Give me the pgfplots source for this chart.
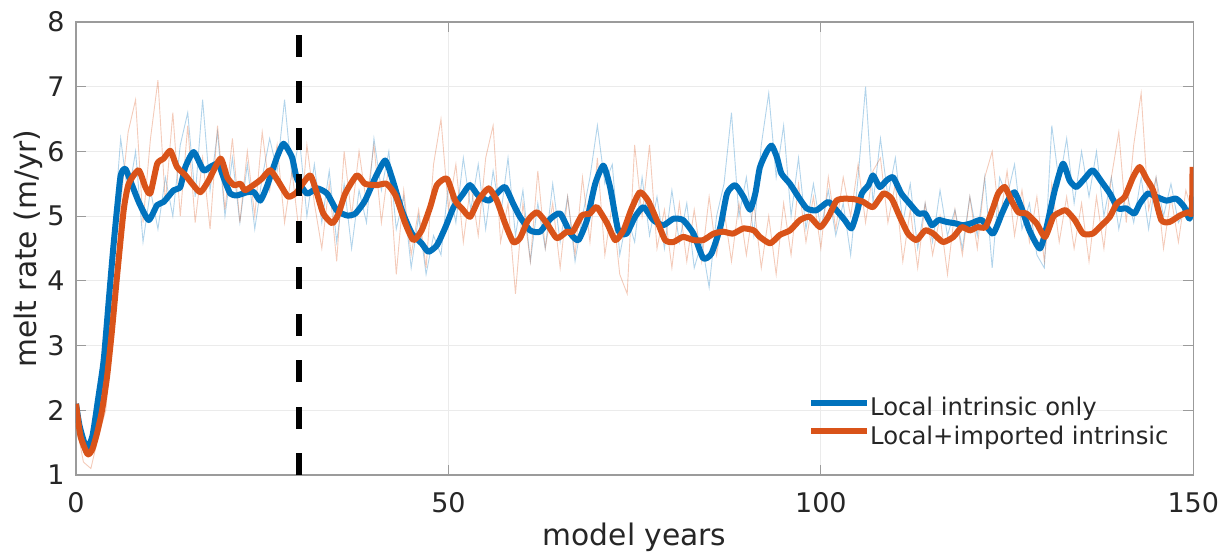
\documentclass[border=0pt]{standalone}
\usepackage{pgfplots}
\pgfplotsset{compat=1.18}
\usepackage{fontspec}
\setmainfont{DejaVu Sans}
\definecolor{mblue}{RGB}{0,114,189}
\definecolor{morange}{RGB}{217,83,25}
\definecolor{txt}{RGB}{38,38,38}
\definecolor{axgray}{RGB}{155,155,155}
\definecolor{gridc}{RGB}{235,235,235}
\begin{document}
\begin{tikzpicture}
\path[use as bounding box] (-38pt,-39pt) rectangle (575.5pt,237.5pt);
\begin{axis}[
  at={(0,0)}, anchor=south west, scale only axis,
  width=558.65pt, height=226.5pt,
  xmin=0, xmax=150, ymin=1, ymax=8,
  xtick={0,50,100,150}, ytick={1,2,3,4,5,6,7,8},
  grid=major, grid style={color=gridc, line width=0.5pt},
  axis line style={color=axgray, line width=0.6pt},
  tick style={color=axgray, line width=0.6pt},
  tick align=inside, tick pos=both, major tick length=5pt,
  /pgf/number format/assume math mode=true,
  ticklabel style={font=\fontsize{13.5}{16}\selectfont, text=txt},
  yticklabel style={inner sep=0pt, anchor=east, xshift=-5.5pt},
  xticklabel style={inner sep=0pt, anchor=north, yshift=-8.5pt},
  xlabel={model years}, ylabel={melt rate (m/yr)},
  xlabel style={at={(axis description cs:0.5,-0.1567)}, anchor=base, font=\fontsize{14.85}{18}\selectfont, text=txt},
  ylabel style={at={(axis description cs:-0.0358,0.5)}, anchor=base, rotate=0, font=\fontsize{14.85}{18}\selectfont, text=txt},
  legend style={draw=none, fill=none, at={(axis description cs:0.655,0.172)}, anchor=north west,
    font=\fontsize{12.15}{14}\selectfont, text=txt, inner sep=0pt, row sep=3.3pt,
    nodes={inner sep=0pt}},
  legend cell align=left,
  /tikz/every even column/.append style={column sep=3pt},
  legend image code/.code={\draw[#1, line width=3pt] (0pt,2.6pt) -- (28pt,2.6pt);},
]
% thin raw series
\addplot[mblue, opacity=0.3, line width=0.45pt, forget plot] coordinates {
(0,2.05)(0.5,1.6)(1,1.35)(1.5,1.3)(2,1.4)(3,2.3)(4,3.0)(5,4.7)(6,6.2)(7,5.3)(8,6.0)(9,4.6)(10,5.4)
(11,4.8)(12,5.6)(13,5.0)(14,6.1)(15,6.6)(16,5.3)(17,6.8)(18,5.4)(19,6.3)(20,5.0)
(21,5.9)(22,4.9)(23,5.8)(24,4.8)(25,5.6)(26,6.2)(27,5.7)(28,6.8)(29,5.6)(30,6.2)
(31,5.0)(32,5.8)(33,4.9)(34,5.7)(35,4.6)(36,5.5)(37,4.5)(38,5.4)(39,4.9)(40,6.2)
(41,5.4)(42,6.0)(43,4.8)(44,5.3)(45,4.2)(46,5.0)(47,4.1)(48,4.7)(49,4.4)(50,5.5)
(51,4.9)(52,5.9)(53,5.1)(54,5.8)(55,4.8)(56,5.7)(57,5.0)(58,5.9)(59,4.7)(60,5.4)
(61,4.3)(62,5.2)(63,4.5)(64,5.5)(65,4.6)(66,5.3)(67,4.3)(68,5.0)(69,5.6)(70,6.4)
(71,5.5)(72,5.8)(73,4.4)(74,5.0)(75,4.6)(76,5.6)(77,4.7)(78,5.3)(79,4.5)(80,5.4)
(81,4.6)(82,5.2)(83,4.2)(84,4.6)(85,3.9)(86,5.0)(87,5.5)(88,6.6)(89,5.0)(90,5.6)
(91,4.7)(92,6.1)(93,6.9)(94,5.6)(95,6.4)(96,5.0)(97,5.9)(98,4.8)(99,5.5)(100,4.8)
(101,5.4)(102,4.7)(103,5.2)(104,4.4)(105,5.6)(106,7.0)(107,5.2)(108,6.2)(109,5.3)(110,5.9)
(111,4.9)(112,5.5)(113,4.5)(114,5.2)(115,4.6)(116,5.4)(117,4.7)(118,5.1)(119,4.5)(120,5.3)
(121,4.7)(122,5.6)(123,4.2)(124,5.6)(125,5.3)(126,5.8)(127,4.8)(128,5.2)(129,4.4)(130,4.2)
(131,6.4)(132,5.5)(133,6.2)(134,5.2)(135,6.0)(136,5.3)(137,6.0)(138,5.0)(139,5.6)(140,4.8)
(141,5.4)(142,4.9)(143,5.6)(144,4.8)(145,5.6)(146,5.0)(147,5.5)(148,4.9)(149,5.1)(150,5.0)
};
\addplot[morange, opacity=0.3, line width=0.45pt, forget plot] coordinates {
(0,2.15)(0.5,1.5)(1,1.2)(1.5,1.15)(2,1.1)(3,1.6)(4,2.0)(5,3.4)(6,5.2)(7,6.3)(8,6.8)(9,4.9)(10,6.2)
(11,7.1)(12,5.2)(13,6.6)(14,5.0)(15,6.4)(16,4.9)(17,5.9)(18,4.8)(19,6.4)(20,5.1)
(21,6.2)(22,4.9)(23,6.0)(24,5.0)(25,6.3)(26,5.4)(27,6.1)(28,4.9)(29,5.7)(30,4.7)
(31,6.1)(32,5.2)(33,4.5)(34,5.5)(35,4.3)(36,6.0)(37,5.0)(38,6.0)(39,5.2)(40,6.1)
(41,4.9)(42,5.8)(43,4.1)(44,5.4)(45,4.4)(46,5.1)(47,4.2)(48,5.8)(49,6.5)(50,5.1)
(51,5.8)(52,4.6)(53,5.5)(54,4.7)(55,5.9)(56,6.4)(57,4.6)(58,5.2)(59,3.8)(60,5.2)
(61,4.3)(62,5.7)(63,4.5)(64,5.2)(65,4.2)(66,5.3)(67,4.4)(68,5.6)(69,4.6)(70,5.9)
(71,4.4)(72,5.2)(73,4.1)(74,3.8)(75,6.1)(76,5.0)(77,6.1)(78,4.5)(79,5.1)(80,4.2)
(81,5.2)(82,4.3)(83,5.1)(84,4.3)(85,5.3)(86,4.4)(87,5.1)(88,4.3)(89,5.2)(90,4.4)
(91,5.2)(92,4.2)(93,5.0)(94,4.1)(95,5.2)(96,4.4)(97,5.5)(98,4.6)(99,5.3)(100,4.5)
(101,5.6)(102,4.8)(103,5.6)(104,5.0)(105,5.8)(106,4.9)(107,5.7)(108,5.9)(109,4.9)(110,5.5)
(111,4.3)(112,5.1)(113,4.2)(114,5.2)(115,4.4)(116,5.0)(117,4.1)(118,5.1)(119,4.4)(120,5.3)
(121,4.5)(122,5.6)(123,6.0)(124,4.9)(125,5.7)(126,4.7)(127,5.4)(128,4.6)(129,5.3)(130,4.3)
(131,5.5)(132,4.6)(133,5.3)(134,4.5)(135,5.2)(136,4.3)(137,5.3)(138,4.5)(139,5.6)(140,6.3)
(141,4.9)(142,6.1)(143,6.9)(144,5.1)(145,5.6)(146,4.5)(147,5.3)(148,4.6)(149,5.4)(150,5.0)
};
% smoothed series
\addplot[mblue, line width=3pt, line join=round, smooth, tension=0.35] coordinates {
(0,2.1)(0.5,1.75)(1.4,1.42)(2.2,1.6)(3,2.2)(3.72,2.78)(4.4,3.7)(5.06,4.58)(5.96,5.6)(6.63,5.73)
(7.52,5.48)(8.5,5.2)(9.76,4.94)(10.88,5.17)(11.77,5.22)(13.1,5.40)(14.0,5.45)(14.68,5.76)(15.8,5.99)
(17.1,5.71)(18.0,5.76)(19.1,5.81)(19.8,5.6)(20.7,5.35)(21.6,5.32)(22.96,5.37)(23.9,5.37)(24.74,5.24)
(25.6,5.45)(26.98,5.91)(27.87,6.12)(29.0,5.91)(29.66,5.58)(31.0,5.35)(32.35,5.43)(33.7,5.35)(35.0,5.09)
(36.4,5.01)(37.5,5.04)(38.8,5.24)(40.2,5.60)(41.5,5.86)(42.4,5.60)(43.75,5.09)(45.1,4.73)(46.4,4.58)
(47.3,4.45)(48.45,4.55)(49.6,4.83)(50.7,5.14)(52.0,5.35)(52.9,5.48)(54.0,5.32)(55.4,5.24)(56.5,5.35)
(57.6,5.45)(58.7,5.19)(59.6,4.99)(60.97,4.78)(62.3,4.76)(63.7,4.96)(65.0,5.04)(66.4,4.73)(67.45,4.63)
(68.6,4.94)(69.7,5.50)(70.8,5.78)(71.7,5.45)(72.8,4.78)(73.9,4.73)(75.06,4.99)(76.2,5.14)(77.5,4.94)
(78.85,4.86)(80.2,4.96)(81.5,4.94)(82.9,4.73)(84.2,4.35)(85.3,4.42)(86.5,4.83)(87.4,5.35)(88.5,5.48)
(89.6,5.30)(90.5,5.10)(91.2,5.35)(91.8,5.75)(92.7,5.99)(93.4,6.09)(94.1,5.91)(94.7,5.66)(95.85,5.50)
(96.97,5.30)(98.1,5.12)(99.4,5.09)(101.0,5.22)(102.1,5.09)(103.2,4.94)(104.1,4.81)(104.8,5.04)
(105.5,5.35)(106.4,5.48)(107.0,5.63)(107.9,5.45)(108.8,5.55)(109.7,5.60)(110.8,5.35)(111.95,5.19)
(113.1,5.04)(114.0,5.04)(114.9,4.86)(115.8,4.94)(116.9,4.91)(118.0,4.89)(119.1,4.86)(120.2,4.89)
(121.6,4.94)(123.1,4.73)(124.3,5.04)(125.1,5.24)(126.0,5.37)(126.9,5.14)(128.0,4.78)(129.4,4.50)
(130.3,4.83)(131.4,5.40)(132.5,5.81)(133.4,5.55)(134.3,5.45)(135.4,5.58)(136.5,5.71)(137.7,5.53)
(138.8,5.35)(139.9,5.12)(141.0,5.12)(142.1,5.04)(142.8,5.19)(143.9,5.35)(145.0,5.30)(146.4,5.24)
(147.7,5.27)(148.8,5.14)(149.5,4.96)(150,5.30)
};
\addlegendentry{Local intrinsic only}
\addplot[morange, line width=3pt, line join=round, smooth, tension=0.35] coordinates {
(0,2.1)(0.6,1.6)(1.57,1.32)(2.2,1.4)(2.83,1.65)(3.5,2.0)(4.17,2.52)(4.8,3.2)(5.5,4.06)(6.4,5.09)
(7.07,5.50)(8.41,5.71)(9.31,5.45)(9.98,5.35)(10.9,5.81)(11.77,5.89)(12.67,6.01)(13.56,5.76)(14.7,5.63)
(15.6,5.50)(16.7,5.37)(17.8,5.55)(19.4,5.89)(20.3,5.60)(21.2,5.48)(22.1,5.50)(22.7,5.40)(24.07,5.50)
(24.97,5.58)(26.08,5.71)(27.2,5.53)(28.5,5.30)(29.66,5.37)(30.1,5.45)(31.45,5.63)(32.35,5.35)(33.2,5.04)
(34.4,4.89)(35.25,5.04)(36.15,5.35)(37.7,5.63)(38.8,5.50)(40.4,5.48)(41.7,5.50)(42.9,5.32)(44.2,4.89)
(45.3,4.63)(46.4,4.78)(47.55,5.14)(48.45,5.48)(49.8,5.58)(50.9,5.24)(51.8,5.12)(52.9,4.99)(54.0,5.24)
(55.4,5.43)(56.5,5.24)(57.6,4.89)(58.7,4.60)(59.6,4.66)(60.7,4.94)(61.9,5.06)(63.2,4.89)(64.55,4.66)
(65.9,4.76)(66.7,4.76)(67.9,5.01)(69.0,5.04)(69.9,5.14)(71.3,4.89)(72.4,4.63)(73.5,4.78)(74.6,5.12)
(75.7,5.37)(76.8,5.24)(77.97,4.94)(79.1,4.63)(80.2,4.60)(81.5,4.68)(82.9,4.63)(84.2,4.63)(85.6,4.73)
(86.9,4.76)(88.2,4.73)(89.6,4.81)(91.0,4.78)(91.8,4.68)(93.2,4.58)(94.5,4.71)(95.85,4.78)(97.2,4.94)
(98.5,4.99)(99.9,4.83)(101.0,4.99)(102.1,5.24)(103.2,5.27)(104.6,5.26)(105.7,5.22)(107.0,5.14)
(108.4,5.35)(109.5,5.27)(110.6,4.99)(111.7,4.73)(112.85,4.63)(114.0,4.78)(115.1,4.73)(116.4,4.60)
(117.8,4.68)(118.9,4.83)(120.0,4.78)(121.0,4.83)(122.1,4.83)(123.0,5.09)(123.8,5.35)(124.7,5.45)
(125.6,5.24)(126.5,5.06)(127.6,5.04)(128.95,4.89)(130.1,4.68)(131.2,4.99)(132.1,5.06)(132.9,5.09)
(134.1,4.94)(135.2,4.73)(136.5,4.73)(137.7,4.86)(138.8,4.99)(139.7,5.19)(140.8,5.30)(141.9,5.60)
(142.8,5.76)(143.7,5.58)(144.6,5.40)(145.7,4.94)(146.8,4.91)(148.2,5.01)(149.3,5.06)(149.8,5.06)(149.9,5.76)
};
\addlegendentry{Local+imported intrinsic}
\addplot[black, line width=3pt, dash pattern=on 11pt off 12.25pt, forget plot] coordinates {(30,1) (30,8)};
\end{axis}
\end{tikzpicture}
\end{document}
